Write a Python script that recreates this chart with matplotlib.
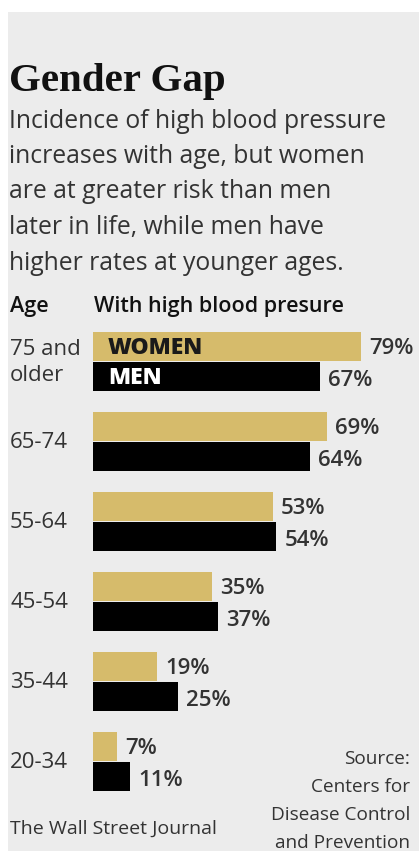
import numpy as np
import matplotlib
matplotlib.use('Agg')
import matplotlib.pyplot as plt
from matplotlib.patches import Rectangle

ages = ['75 and\nolder', '65-74', '55-64', '45-54', '35-44', '20-34']
women = [79, 69, 53, 35, 19, 7]
men = [67, 64, 54, 37, 25, 11]
source_lines = ['Source:', 'Centers for', 'Disease Control', 'and Prevention']

W, H = 419, 859
GOLD = '#d6bb6b'
BG = '#ececec'
TXT = '#333333'
SANS = 'Open Sans'

fig = plt.figure(figsize=(W / 100, H / 100), dpi=100)
fig.patch.set_facecolor('white')
fig.add_artist(Rectangle((8 / W, 8 / H), (W - 8) / W, (H - 20) / H,
                         transform=fig.transFigure, facecolor=BG, edgecolor='none', zorder=0))


def ftext(x, y, s, **kw):
    # x, y in image pixels from top-left
    return fig.text(x / W, 1 - y / H, s, **kw)


ftext(9, 91, 'Gender Gap', fontsize=29.5, fontweight='bold', family='Liberation Serif',
      color='#111111', va='baseline')
sub = ['Incidence of high blood pressure', 'increases with age, but women',
       'are at greater risk than men', 'later in life, while men have',
       'higher rates at younger ages.']
for i, line in enumerate(sub):
    ftext(9, 121 + 35.5 * i, line, fontsize=17.8, family=SANS, color=TXT, va='center')

ftext(10, 306, 'Age', fontsize=15.5, family=SANS, fontweight='semibold', color='#111111', va='center')
ftext(94, 306, 'With high blood presure', fontsize=15.5, family=SANS, fontweight='semibold',
      color='#111111', va='center')

# bar axes: x starts at 93px, 3.39 px per percent; each group 80px tall from y=332
x0, scale = 93, 3.39
y_top, grp = 332, 80
ax = fig.add_axes([x0 / W, 1 - (y_top + grp * len(ages)) / H, (W - x0) / W, grp * len(ages) / H])
ax.set_xlim(0, (W - x0) / scale)
ax.set_ylim(len(ages), 0)
ax.axis('off')

pos = np.arange(len(ages))
bh = 29 / grp
ax.barh(pos, women, height=bh, align='edge', color=GOLD)
ax.barh(pos + 30 / grp, men, height=bh, align='edge', color='#000000')

for i in range(len(ages)):
    ax.text(women[i] + 2.4, pos[i] + bh / 2 + 0.03, f'{women[i]}%', fontsize=16, family=SANS,
            fontweight='semibold', color=TXT, va='center', ha='left', clip_on=False)
    ax.text(men[i] + 2.4, pos[i] + 30 / grp + bh / 2 + 0.05, f'{men[i]}%', fontsize=16,
            family=SANS, fontweight='semibold', color=TXT, va='center', ha='left', clip_on=False)
    ax.text((10 - x0) / scale, pos[i] + 0.38, ages[i], fontsize=16, family=SANS, color=TXT,
            va='center', ha='left', linespacing=1.35, clip_on=False)

ax.text(4.4, pos[0] + bh / 2 + 0.02, 'WOMEN', fontsize=16.5, family=SANS, fontweight='heavy',
        color='#1a1a1a', va='center')
ax.text(4.4, pos[0] + 30 / grp + bh / 2 + 0.02, 'MEN', fontsize=16.5, family=SANS,
        fontweight='heavy', color='white', va='center')

ftext(10, 829, 'The Wall Street Journal', fontsize=14, family=SANS, color=TXT, va='center')
for i, line in enumerate(source_lines):
    ftext(410, 759 + 28 * i, line, fontsize=13.7, family=SANS, color=TXT, va='center', ha='right')

fig.savefig('out.png', dpi=100, facecolor='white')
